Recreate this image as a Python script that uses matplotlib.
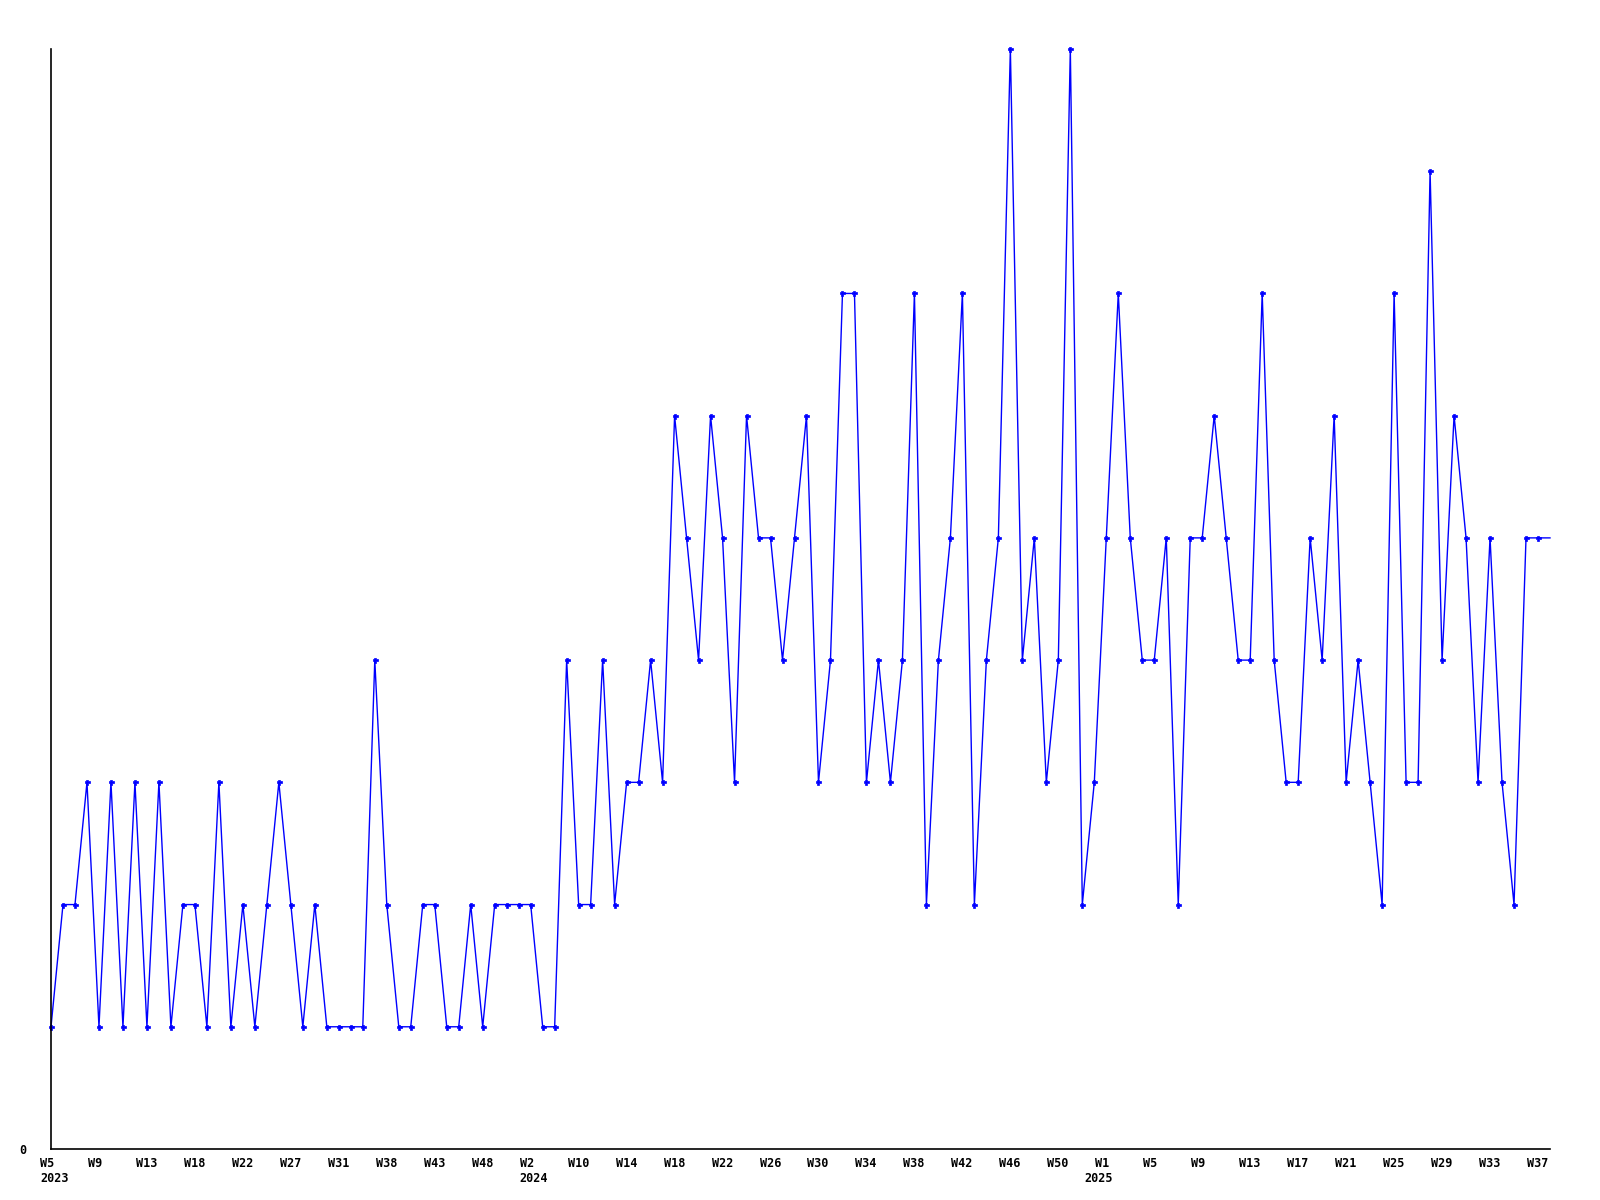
import matplotlib
matplotlib.use("Agg")
import matplotlib.pyplot as plt
from matplotlib.transforms import ScaledTranslation, blended_transform_factory

# weekly counts, one per reported week (evenly spaced as categories)
values = [
    1, 2, 2, 3, 1, 3, 1, 3, 1, 3,
    1, 2, 2, 1, 3, 1, 2, 1, 2, 3,
    2, 1, 2, 1, 1, 1, 1, 4, 2, 1,
    1, 2, 2, 1, 1, 2, 1, 2, 2, 2,
    2, 1, 1, 4, 2, 2, 4, 2, 3, 3,
    4, 3, 6, 5, 4, 6, 5, 3, 6, 5,
    5, 4, 5, 6, 3, 4, 7, 7, 3, 4,
    3, 4, 7, 2, 4, 5, 7, 2, 4, 5,
    9, 4, 5, 3, 4, 9, 2, 3, 5, 7,
    5, 4, 4, 5, 2, 5, 5, 6, 5, 4,
    4, 7, 4, 3, 3, 5, 4, 6, 3, 4,
    3, 2, 7, 3, 3, 8, 4, 6, 5, 3,
    5, 3, 2, 5, 5, 5,
]

# every 4th point gets a label
tick_labels = [
    "W5", "W9", "W13", "W18", "W22", "W27", "W31", "W38", "W43", "W48",
    "W2", "W10", "W14", "W18", "W22", "W26", "W30", "W34", "W38", "W42",
    "W46", "W50", "W1", "W5", "W9", "W13", "W17", "W21", "W25", "W29",
    "W33", "W37",
]
years = ["2023", "2024", "2025"]
year_ticks = [0, 40, 88]  # point index where each year starts

fig = plt.figure(figsize=(16, 12), dpi=100)
ax = fig.add_axes([51 / 1600, 51 / 1200, 1499 / 1600, 1100 / 1200])

x = list(range(len(values)))
ax.plot(x, values, color="#0000ff", lw=1.0, clip_on=False)
# last (current) week is drawn without a marker
ax.plot(x[:-1], values[:-1], ls="none", marker="P", ms=3.6,
        color="#0000ff", mec="#0000ff", mew=0.5, clip_on=False)

ax.set_xlim(0, len(values) - 1)
ax.set_ylim(0, 9)

for s in ["top", "right"]:
    ax.spines[s].set_visible(False)
for s in ["left", "bottom"]:
    ax.spines[s].set_linewidth(1.2)
    ax.spines[s].set_color("black")

font = dict(family="DejaVu Sans Mono", weight="bold", size=8.5)

ax.set_xticks([i * 4 for i in range(len(tick_labels))])
ax.set_xticklabels(tick_labels, ha="left", va="top", **font)
ax.tick_params(axis="x", length=0, pad=6)
shift = ScaledTranslation(-11 / 100, 0, fig.dpi_scale_trans)
for lab in ax.get_xticklabels():
    lab.set_transform(lab.get_transform() + shift)

# year labels on a second row
trans = blended_transform_factory(ax.transData, fig.transFigure)
for yr, xi in zip(years, year_ticks):
    dx = -22 if yr == "2025" else -11
    ax.text(xi, 1 - 1178 / 1200, yr, ha="left", va="center",
            transform=trans + ScaledTranslation(dx / 100, 0, fig.dpi_scale_trans),
            **font)

ax.set_yticks([0])
ax.set_yticklabels(["0"], **font)
ax.tick_params(axis="y", length=0, pad=18)

fig.savefig("out.png", dpi=100, facecolor="white")
